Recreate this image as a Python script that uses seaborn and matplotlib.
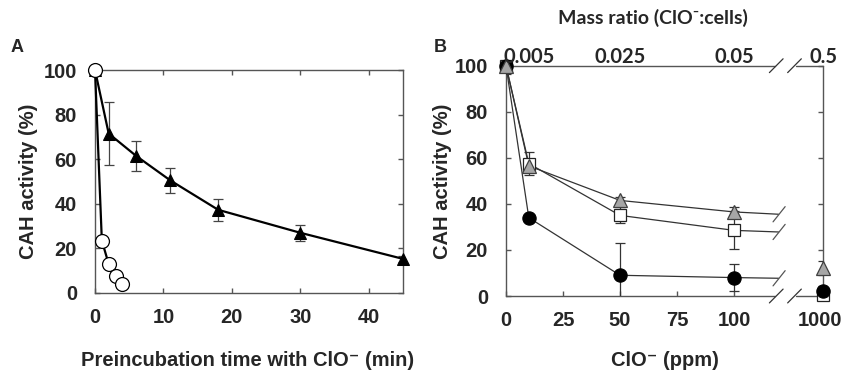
import matplotlib
matplotlib.use("Agg")
import matplotlib.pyplot as plt
import matplotlib.transforms as mtransforms
import seaborn as sns
import pandas as pd
import numpy as np

# ---- Panel A data: CAH activity vs preincubation time ----
a_time_tri = [0, 2, 6, 11, 18, 30, 45]
a_act_tri = [100, 71.5, 61.5, 50.5, 37.3, 27.0, 15.3]
a_err_tri = [0, 14.0, 6.7, 5.7, 4.8, 3.7, 1.5]

a_time_circ = [0, 1, 2, 3, 4]
a_act_circ = [100, 23.5, 13.0, 7.5, 4.0]

# ---- Panel B data: CAH activity vs ClO- dose ----
ppm = [0, 10, 50, 100, 1000]
b_tri = [100, 56.5, 41.5, 36.5, 12.2]
b_tri_err = [0, 1.0, 1.5, 2.0, 3.0]
b_sq = [100, 57.5, 35.0, 28.5, 0.5]
b_sq_err = [3.7, 5.0, 3.5, 8.3, 1.0]
b_circ = [100, 34.0, 9.0, 8.0, 2.3]
b_circ_err = [0, 0, 13.8, 5.8, 2.0]
# values where each line is cut by the axis break
b_tail = {"tri": 35.5, "sq": 27.8, "circ": 7.7}

mass_ratio_ppm = [10, 50, 100, 1000]
mass_ratio_labels = ["0.005", "0.025", "0.05", "0.5"]

BREAK_POS = 139.0   # axis position used for the 1000 ppm point
TAIL_END = 119.5    # where lines stop before the break


def xpos(v):
    return np.where(np.asarray(v) <= 100, v, BREAK_POS)


sns.set_style("ticks")
plt.rcParams["font.family"] = ["Liberation Sans", "DejaVu Sans"]
plt.rcParams["font.weight"] = "bold"

fig = plt.figure(figsize=(8.44, 3.74), dpi=100)
W, H = 844, 374
axA = fig.add_axes([95 / W, 1 - 293 / H, (403 - 95) / W, (293 - 70) / H])
axB = fig.add_axes([506 / W, 1 - 296 / H, (823 - 506) / W, (296 - 65.7) / H])

spine_c = "#555555"
tick_font = 14.5
label_font = 14.5

for ax in (axA, axB):
    for s in ax.spines.values():
        s.set_color(spine_c)
        s.set_linewidth(1.0)
    ax.tick_params(direction="in", length=3.5, width=1, color=spine_c,
                   top=True, right=True, labelsize=tick_font, pad=11)
    ax.tick_params(axis="y", pad=13)
    ax.set_ylim(0, 100)
    ax.set_yticks([0, 20, 40, 60, 80, 100])

# ---------------- Panel A ----------------
axA.errorbar(a_time_tri, a_act_tri, yerr=a_err_tri, fmt="none",
             ecolor="#444444", elinewidth=0.9, capsize=3.5, capthick=0.9, zorder=2)
dfA_tri = pd.DataFrame({"t": a_time_tri, "act": a_act_tri})
dfA_circ = pd.DataFrame({"t": a_time_circ, "act": a_act_circ})
sns.lineplot(data=dfA_tri, x="t", y="act", ax=axA, color="black", lw=1.6,
             marker="^", markersize=9, markeredgecolor="black",
             markerfacecolor="black", clip_on=False, zorder=3)
sns.lineplot(data=dfA_circ, x="t", y="act", ax=axA, color="black", lw=1.6,
             marker="o", markersize=10, markeredgecolor="black",
             markeredgewidth=0.9, markerfacecolor="white", clip_on=False, zorder=4)
axA.set_xlim(0, 45)
axA.set_xticks([0, 10, 20, 30, 40])
axA.set_xlabel("")
axA.set_ylabel("")
for lbl in axA.get_xticklabels() + axA.get_yticklabels():
    lbl.set_fontweight("bold")

fig.text(248 / W, 1 - 361 / H, "Preincubation time with ClO\u207b (min)",
         ha="center", va="center", fontsize=label_font, fontweight="bold")
fig.text(28 / W, 1 - 181 / H, "CAH activity (%)", rotation=90,
         ha="center", va="center", fontsize=label_font, fontweight="bold")
fig.text(17.5 / W, 1 - 48 / H, "A", ha="center", va="center",
         fontsize=13, fontweight="bold")

# ---------------- Panel B ----------------
# drawn back to front: squares, circles, triangles
series = [
    ("sq", b_sq, b_sq_err, "s", "white", "#222222", 8),
    ("circ", b_circ, b_circ_err, "o", "black", "black", 9.5),
    ("tri", b_tri, b_tri_err, "^", "#a6a6a6", "#404040", 9.5),
]
xp = xpos(ppm)
for i, (key, vals, errs, mk, fc, ec, ms) in enumerate(series):
    # connecting line (first four doses + tail up to the break)
    line_df = pd.DataFrame({"x": list(xp[:4]) + [TAIL_END],
                            "y": list(vals[:4]) + [b_tail[key]]})
    sns.lineplot(data=line_df, x="x", y="y", ax=axB, color="#333333",
                 lw=0.9, zorder=2)
    axB.errorbar(xp, vals, yerr=errs, fmt="none", ecolor="#333333",
                 elinewidth=0.9, capsize=3.5, capthick=0.9, zorder=3)
    axB.plot(xp, vals, ls="none", marker=mk, markersize=ms,
             markerfacecolor=fc, markeredgecolor=ec, markeredgewidth=0.9,
             clip_on=False, zorder=4 + i)
    # slash mark at the end of each line
    axB.plot([TAIL_END - 2.4, TAIL_END + 2.9], [b_tail[key] - 3.3, b_tail[key] + 3.3],
             color="#555555", lw=0.9, clip_on=False, zorder=2)

axB.set_xlim(0, BREAK_POS)
axB.set_xticks([0, 25, 50, 75, 100, BREAK_POS])
axB.set_xticklabels(["0", "25", "50", "75", "100", "1000"])
axB.set_xlabel("")
axB.set_ylabel("")
for lbl in axB.get_xticklabels() + axB.get_yticklabels():
    lbl.set_fontweight("bold")
# nudge the last label inside the figure
last = axB.get_xticklabels()[-1]
last.set_transform(last.get_transform() +
                   mtransforms.ScaledTranslation(-3 / 100, 0, fig.dpi_scale_trans))

# broken top/bottom spines
axB.spines["bottom"].set_visible(False)
axB.spines["top"].set_visible(False)
gap_l, gap_r = 118.0, 127.0
for yv in (0, 100):
    axB.plot([0, gap_l], [yv, yv], color=spine_c, lw=1.0, clip_on=False, zorder=1)
    axB.plot([gap_r, BREAK_POS], [yv, yv], color=spine_c, lw=1.0, clip_on=False, zorder=1)
    for xc in (gap_l + 0.5, gap_r - 0.5):
        axB.plot([xc - 3.0, xc + 3.0], [yv - 3.0, yv + 3.0],
                 color="#333333", lw=0.9, clip_on=False, zorder=1)

# top axis: mass ratio labels
topB = axB.twiny()
topB.set_xlim(axB.get_xlim())
topB.set_xticks(xpos(mass_ratio_ppm))
topB.set_xticklabels(mass_ratio_labels)
topB.tick_params(length=0, pad=-1)
for lbl in topB.get_xticklabels():
    lbl.set_fontfamily(["Lato", "DejaVu Sans"])
    lbl.set_fontweight("bold")
    lbl.set_fontsize(14.5)
for s in topB.spines.values():
    s.set_visible(False)

fig.text(653 / W, 1 - 18 / H, "Mass ratio (ClO\u207b:cells)", ha="center",
         va="center", fontsize=14, fontweight="bold", family=["Lato", "DejaVu Sans"])
fig.text(665 / W, 1 - 360 / H, "ClO\u207b (ppm)", ha="center", va="center",
         fontsize=label_font, fontweight="bold")
fig.text(443 / W, 1 - 181 / H, "CAH activity (%)", rotation=90,
         ha="center", va="center", fontsize=label_font, fontweight="bold")
fig.text(440 / W, 1 - 47 / H, "B", ha="center", va="center",
         fontsize=13, fontweight="bold")

fig.savefig("out.png", dpi=100)
